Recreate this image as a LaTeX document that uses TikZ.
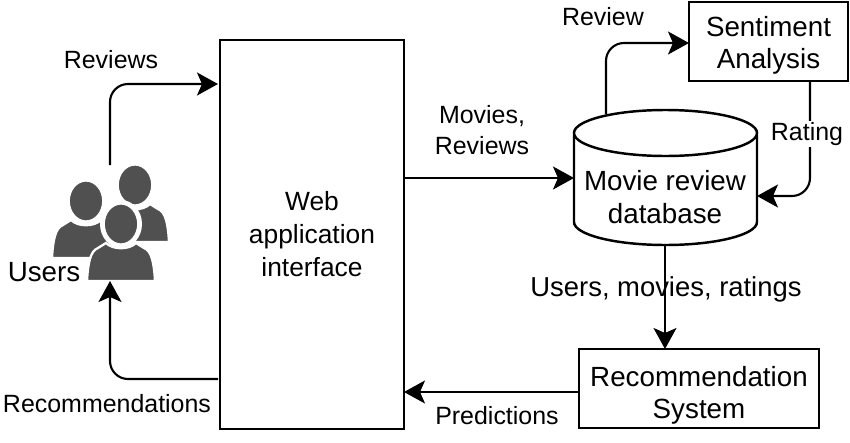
\documentclass[tikz,border=0pt]{standalone}
\usepackage{fontspec}
\setmainfont{Liberation Sans}
\usetikzlibrary{arrows.meta}

\definecolor{icongray}{HTML}{505050}

\tikzset{
    box/.style={draw, line width=1.4pt, align=center, inner sep=0pt, font=\fontsize{15.8}{18.4}\selectfont},
    lbl/.style={align=center, inner sep=1pt, font=\fontsize{14.2}{17}\selectfont},
    flow/.style={line width=1.2pt, rounded corners=0.36cm, -{Stealth[length=0.42cm,width=0.46cm,inset=0.1cm]}},
    person/.pic={
        \fill[icongray, draw=white, line width=1.3pt] (-34,57) .. controls (-33,40) and (-31,27) .. (-23,24) -- (-15,19) .. controls (-8,26) and (8,26) .. (15,19) -- (23,24) .. controls (31,27) and (33,40) .. (34,57) -- cycle;
        \fill[icongray, draw=white, line width=1.3pt] (0,0) ellipse (17.3 and 20.5);
    }
}

\begin{document}
\begin{tikzpicture}[x=0.02cm, y=-0.02cm]
    \useasboundingbox (0,0) rectangle (850,443);

    % Users icon
    \pic at (135,185) {person};
    \pic at (86,201) {person};
    \fill[white] (121,224) ellipse (21 and 24);
    \pic at (121,224) {person};
    \node[lbl, font=\fontsize{15.8}{18.4}\selectfont] (users) at (44,272) {Users};
    \coordinate (usersTop) at (110,165);
    \coordinate (usersBottom) at (110,281);

    % Free ends on the boxes
    \coordinate (webReviews) at (218,84);
    \coordinate (webOut) at (404,178);
    \coordinate (webIn) at (404,392);
    \coordinate (webBack) at (218,379);
    \coordinate (dbTop) at (606,114);
    \coordinate (dbIn) at (574,178);
    \coordinate (dbRight) at (757,196);
    \coordinate (dbBottom) at (665,245);
    \coordinate (sentBottom) at (810,81);
    \coordinate (sentIn) at (689,43);
    \coordinate (recTop) at (665,349);
    \coordinate (recRight) at (579,392);

    % Boxes
    \node[box, font=\fontsize{15}{18.8}\selectfont, minimum width=3.68cm, minimum height=7.78cm] (web) at (312,234.5) {Web\\application\\interface};
    \node[box, minimum width=3.18cm, minimum height=1.58cm] (sentiment) at (768.5,41.5) {\rule{0pt}{16pt}Sentiment\\Analysis};
    \node[box, minimum width=4.8cm, minimum height=1.58cm] (recommender) at (699,388.5) {\rule{0pt}{19.5pt}Recommendation\\System};

    % Database
    \draw[line width=1.4pt, fill=white] (574,135) -- (574,222) .. controls (574,234.7) and (615,245) .. (665.5,245) .. controls (716,245) and (757,234.7) .. (757,222) -- (757,135);
    \draw[line width=1.4pt, fill=white] (665.5,133) ellipse (91.5 and 23);
    \node[box, draw=none, font=\fontsize{15.8}{18.6}\selectfont] (database) at (665,197) {Movie review\\database};

    % Connectors
    \draw[flow] (usersTop) |- (webReviews);
    \draw[flow] (webBack) -| (usersBottom);
    \draw[flow] (webOut) -- (dbIn);
    \draw[flow] (dbTop) |- (sentIn);
    \draw[flow] (sentBottom) |- (dbRight);
    \draw[flow] (dbBottom) -- (recTop);
    \draw[flow] (recRight) -- (webIn);

    % Labels
    \node[lbl] (lblReviews) at (111,60) {Reviews};
    \node[lbl, font=\fontsize{14.2}{17.4}\selectfont] (lblMovies) at (482,130) {Movies,\\Reviews};
    \node[lbl] (lblReview) at (603,17) {Review};
    \node[lbl, fill=white] (lblRating) at (807,134) {Rating};
    \node[lbl, font=\fontsize{15.6}{18}\selectfont] (lblTriple) at (666,289) {Users, movies, ratings};
    \node[lbl] (lblPredictions) at (497,416) {Predictions};
    \node[lbl] (lblRecommendations) at (107,404) {Recommendations};
\end{tikzpicture}
\end{document}
